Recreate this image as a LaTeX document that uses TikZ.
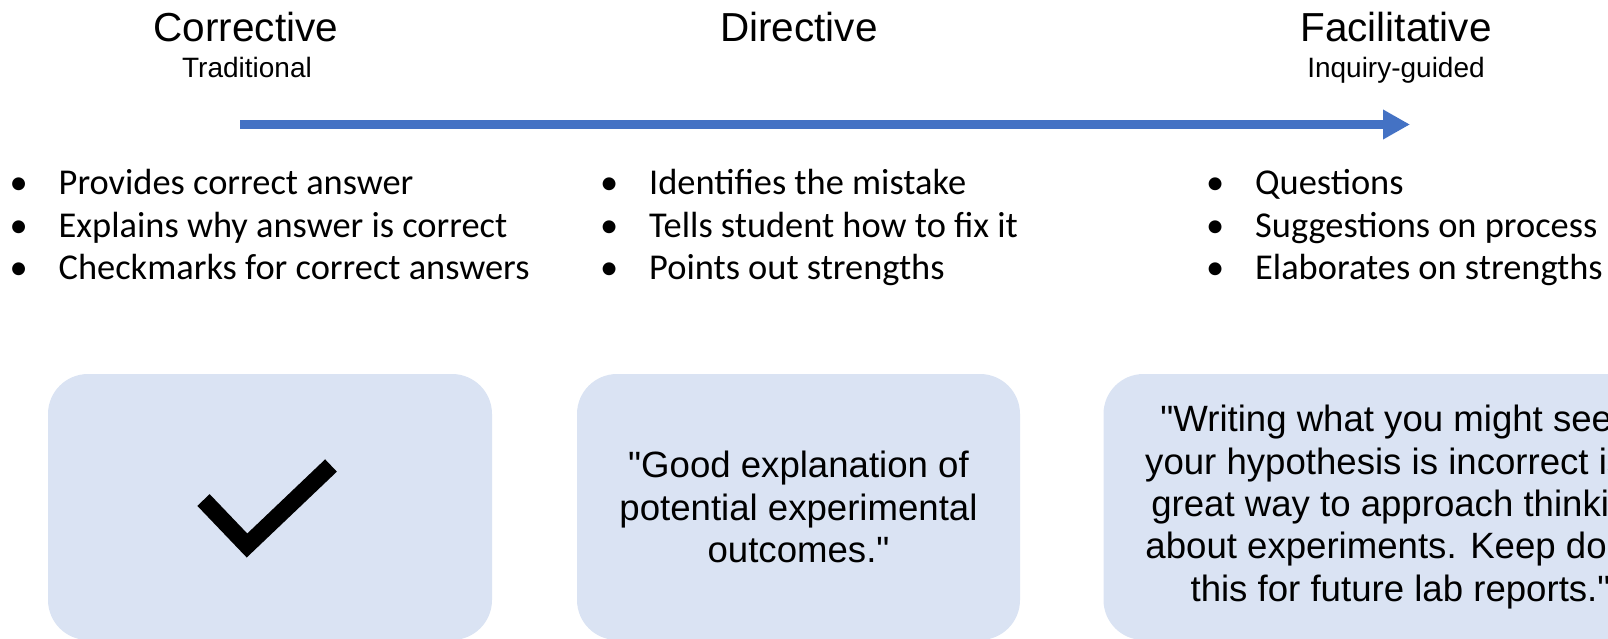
\documentclass[tikz,border=0pt]{standalone}
\usepackage{fontspec}
\setmainfont{Liberation Sans}
\newfontfamily\quotefont{Liberation Sans}
\newfontfamily\calibri{Carlito}
\usetikzlibrary{arrows.meta}
\definecolor{cardfill}{HTML}{DAE3F3}
\definecolor{timeblue}{HTML}{4472C4}
\newcommand\bulletmark[1]{\makebox[#1][l]{•}}

\begin{document}
\begin{tikzpicture}[x=1pt,y=-1pt,
  heading/.style={font=\fontsize{40.5}{48}\selectfont, inner sep=0, anchor=base},
  subheading/.style={font=\fontsize{28}{34}\selectfont, inner sep=0, anchor=base},
  point/.style={font=\calibri\fontsize{36.4}{42}\selectfont, inner sep=0, anchor=base west},
  card/.style={fill=cardfill, rounded corners=40pt, minimum height=266pt,
    inner sep=0, align=center, font=\quotefont\fontsize{36.6}{42.3}\selectfont},
  timeline/.style={draw=timeblue, line width=9pt,
    -{Triangle[length=27pt,width=28pt]}, color=timeblue},
  tick/.style={line width=17pt, miter limit=10},
]
\useasboundingbox (0,0) rectangle (1608,639);
\clip (0,0) rectangle (1608,639);

% headings along the scale
\node[heading] (hcor) at (246,42) {Corrective};
\node[subheading] (scor) at (247,78) {Traditional};
\node[heading] (hdir) at (799,42) {Directive};
\node[heading] (hfac) at (1396,42) {Facilitative};
\node[subheading] (sfac) at (1396,78) {Inquiry-guided};

% the scale arrow
\coordinate (tstart) at (240,124.5);
\coordinate (tend) at (1410,124.5);
\draw[timeline] (tstart) -- (tend);

% bullet lists
\node[point] (c1a) at (9.5,195) {\bulletmark{49pt}Provides correct answer};
\node[point] (c1b) at (9.5,237) {\bulletmark{49pt}Explains why answer is correct};
\node[point] (c1c) at (9.5,279) {\bulletmark{49pt}Checkmarks for correct answers};

\node[point] (c2a) at (600,195) {\bulletmark{49pt}Identifies the mistake};
\node[point] (c2b) at (600,237) {\bulletmark{49pt}Tells student how to fix it};
\node[point] (c2c) at (600,279) {\bulletmark{49pt}Points out strengths};

\node[point] (c3a) at (1206,195) {\bulletmark{49pt}Questions};
\node[point] (c3b) at (1206,237) {\bulletmark{49pt}Suggestions on process};
\node[point] (c3c) at (1206,279) {\bulletmark{49pt}Elaborates on strengths};

% example cards
\node[card, minimum width=444pt] (b1) at (270,507) {};
\draw[tick] (203.5,500) -- (247,545.5) -- (331,465.5);

\node[card, minimum width=443pt] (b2) at (798.5,507)
  {"Good explanation of\\potential experimental\\outcomes."};

\node[card, minimum width=594pt] (b3) at (1400.5,507)
  {"Writing what you might see if\\your hypothesis is incorrect is a\\great way to approach thinking\\about experiments. Keep doing\\this for future lab reports."};
\end{tikzpicture}
\end{document}
